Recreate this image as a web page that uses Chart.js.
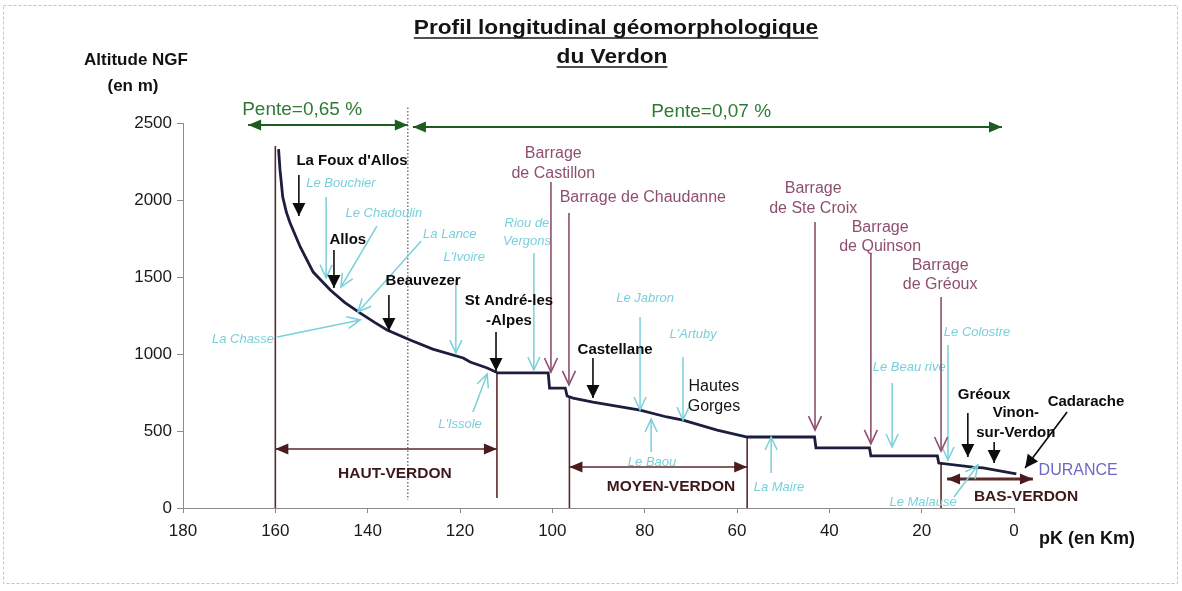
<!DOCTYPE html>
<html><head><meta charset="utf-8">
<script src="https://cdn.jsdelivr.net/npm/chart.js@4.4.1/dist/chart.umd.min.js"></script>
<style>html,body{margin:0;padding:0;background:#fff}#wrap{width:1182px;height:591px;position:relative}</style>
</head><body><div id="wrap"><canvas id="c" width="1182" height="591"></canvas></div>
<script>
// ---- data (km from confluence, altitude NGF in m) ----
const profileKm  = [159.3,159.0,158.4,157.6,156.8,154.6,151.8,148.1,145.0,141.6,138.5,135.8,130.8,125.9,119.3,117.8,114.1,111.8,100.9,100.6,97.2,96.8,95.5,91.2,81.0,75.2,71.7,64.3,57.8,43.2,42.9,31.3,31.0,16.6,16.3,8.9,6.7,-0.5];
const profileAlt = [2330,2200,2020,1920,1850,1695,1532,1416,1335,1266,1205,1156,1091,1032,974,948,909,877,877,779,779,727,714,688,636,591,571,506,461,461,390,390,338,338,292,266,260,222];
const xTickValues = [180,160,140,120,100,80,60,40,20,0];
const yTickValues = [0,500,1000,1500,2000,2500];

const titleLines = ["Profil longitudinal géomorphologique","du Verdon"];
const yAxisTitle = ["Altitude NGF","(en m)"];
const xAxisTitle = "pK (en Km)";

// towns: text lines, label km, label alt per line, arrow [km1,alt1,km2,alt2]
const towns = [
  {t:["La Foux d'Allos"], km:143.4, alt:[2253], a:[154.9,2162,154.9,1896]},
  {t:["Allos"], km:144.3, alt:[1740], a:[147.3,1675,147.3,1429]},
  {t:["Beauvezer"], km:128.0, alt:[1474], a:[135.4,1383,135.4,1149]},
  {t:["St André-les","-Alpes"], km:109.4, alt:[1344,1214], a:[112.2,1143,112.2,890]},
  {t:["Castellane"], km:86.4, alt:[1026], a:[91.2,974,91.2,714]},
  {t:["Gréoux"], km:6.5, alt:[734], a:[10.0,617,10.0,331]},
  {t:["Vinon-","sur-Verdon"], km:-0.4, alt:[617,487], a:[4.3,429,4.3,292]},
  {t:["Cadarache"], km:-15.6, alt:[688], a:[-11.5,623,-2.4,260]}
];
const plainLabels = [
  {t:["Hautes","Gorges"], km:65.0, alt:[786,656]}
];
const dams = [
  {t:["Barrage","de Castillon"], km:99.8, alt:[2299,2169], a:[100.3,2117,100.3,883]},
  {t:["Barrage de Chaudanne"], km:80.4, alt:[2013], a:[96.4,1916,96.4,799]},
  {t:["Barrage","de Ste Croix"], km:43.5, alt:[2071,1942], a:[43.1,1857,43.1,506]},
  {t:["Barrage","de Quinson"], km:29.0, alt:[1818,1695], a:[31.0,1656,31.0,416]},
  {t:["Barrage","de Gréoux"], km:16.0, alt:[1571,1448], a:[15.8,1370,15.8,370]}
];
const tributaries = [
  {t:["Le Bouchier"], km:145.8, alt:[2110], a:[149.0,2019,149.0,1494]},
  {t:["Le Chadoulin"], km:136.5, alt:[1916], a:[138.0,1831,145.8,1435]},
  {t:["La Lance"], km:122.2, alt:[1779], a:[128.4,1734,142.1,1273]},
  {t:["L'Ivoire"], km:119.1, alt:[1630], a:[120.9,1481,120.9,1006]},
  {t:["La Chasse"], km:167.0, alt:[1097], a:[159.6,1110,141.6,1221]},
  {t:["Riou de","Vergons"], km:105.5, alt:[1851,1734], a:[104.0,1656,104.0,896]},
  {t:["L'Issole"], km:120.0, alt:[545], a:[117.2,623,114.1,870]},
  {t:["Le Jabron"], km:79.9, alt:[1364], a:[81.0,1240,81.0,636]},
  {t:["L'Artuby"], km:69.5, alt:[1130], a:[71.7,981,71.7,571]},
  {t:["Le Baou"], km:78.4, alt:[299], a:[78.6,364,78.6,578]},
  {t:["La Maire"], km:50.9, alt:[136], a:[52.6,227,52.6,461]},
  {t:["Le Beau rive"], km:22.7, alt:[916], a:[26.4,812,26.4,396]},
  {t:["Le Colostre"], km:8.0, alt:[1143], a:[14.3,1058,14.3,312]},
  {t:["Le Malause"], km:19.7, alt:[39], a:[13.0,71,7.8,279]}
];
const slopes = [
  {t:"Pente=0,65 %", km:154.2, alt:2584, from:165.9, to:131.3, arrowAlt:2487},
  {t:"Pente=0,07 %", km:65.6, alt:2571, from:130.2, to:2.6, arrowAlt:2474}
];
const slopeBreakKm = 131.3, slopeBreakAlt = [2600,52];
const sectionLines = [[160,0,2350],[112.0,65,877],[96.3,0,727],[57.8,0,461],[15.8,0,292]];
const sections = [
  {t:"HAUT-VERDON", km:134.1, alt:221, from:160, to:112.0, arrowAlt:383},
  {t:"MOYEN-VERDON", km:74.3, alt:136, from:96.3, to:57.8, arrowAlt:266},
  {t:"BAS-VERDON", km:-2.6, alt:71, from:14.5, to:-4.1, arrowAlt:188}
];
const riverOut = {t:"DURANCE", km:-13.9, alt:240};

// ---- styles ----
const FONT = "'Liberation Sans', Arial, Helvetica, sans-serif";
const C_CURVE = '#1d1d3d', C_MAROON = '#5a2a2c', C_DAM = '#8e4f6e', C_CYAN = '#79d0da',
      C_GREEN = '#1f5c22', C_GREENTXT = '#2f7a34', C_AXIS = '#8a8a8a', C_DUR = '#6a6ac4';

function seg(ctx,x1,y1,x2,y2,color,lw,dash){
  ctx.save();ctx.strokeStyle=color;ctx.lineWidth=lw;ctx.setLineDash(dash||[]);
  ctx.beginPath();ctx.moveTo(x1,y1);ctx.lineTo(x2,y2);ctx.stroke();ctx.restore();
}
function head(ctx,x1,y1,x2,y2,color,len,w,filled,lw){
  const ang=Math.atan2(y2-y1,x2-x1), c=Math.cos(ang), s=Math.sin(ang);
  const bx=x2-len*c, by=y2-len*s;
  const lx=bx - (w/2)*(-s), ly=by - (w/2)*c, rx=bx + (w/2)*(-s), ry=by + (w/2)*c;
  ctx.save();
  if(filled){ctx.fillStyle=color;ctx.beginPath();ctx.moveTo(x2,y2);ctx.lineTo(lx,ly);ctx.lineTo(rx,ry);ctx.closePath();ctx.fill();}
  else{ctx.strokeStyle=color;ctx.lineWidth=lw||1.5;ctx.beginPath();ctx.moveTo(lx,ly);ctx.lineTo(x2,y2);ctx.lineTo(rx,ry);ctx.stroke();}
  ctx.restore();
}
function text(ctx,str,x,y,font,color,align){
  ctx.save();ctx.font=font;ctx.fillStyle=color;ctx.textAlign=align||'center';ctx.textBaseline='middle';
  ctx.fillText(str,x,y);ctx.restore();
}

const annot = {
  id:'annot',
  beforeDatasetsDraw(chart){
    const ctx=chart.ctx, X=v=>chart.scales.x.getPixelForValue(v), Y=v=>chart.scales.y.getPixelForValue(v);
    sectionLines.forEach(([k,a0,a1])=>seg(ctx,X(k),Y(a0),X(k),Y(a1),C_MAROON,1.6));
    seg(ctx,X(slopeBreakKm),Y(slopeBreakAlt[0]),X(slopeBreakKm),Y(slopeBreakAlt[1]),'#4a5a4a',1.2,[1.5,2]);
  },
  afterDatasetsDraw(chart){
    const ctx=chart.ctx, X=v=>chart.scales.x.getPixelForValue(v), Y=v=>chart.scales.y.getPixelForValue(v);
    // scan frame
    ctx.save();ctx.strokeStyle='#c4c4c4';ctx.lineWidth=1;ctx.setLineDash([3,2]);
    ctx.strokeRect(3.5,5.5,1174,578);ctx.restore();
    // titles (slightly widened bold type, underlined)
    titleLines.forEach((s,i)=>{
      const y=[28,57][i], cx=[616,612][i], sx=1.08;
      const f="bold 21px "+FONT;
      ctx.save();ctx.font=f;const w=ctx.measureText(s).width*sx;
      ctx.translate(cx,y);ctx.scale(sx,1);
      ctx.fillStyle='#141414';ctx.textAlign='center';ctx.textBaseline='middle';ctx.fillText(s,0,0);
      ctx.restore();
      seg(ctx,cx-w/2,y+10,cx+w/2,y+10,'#141414',1.7);
    });
    text(ctx,yAxisTitle[0],136,60,"bold 17px "+FONT,'#111');
    text(ctx,yAxisTitle[1],133,86,"bold 17px "+FONT,'#111');
    text(ctx,xAxisTitle,1039,539,"bold 18px "+FONT,'#111','left');
    // slopes
    slopes.forEach(s=>{
      const y=Y(s.arrowAlt), x1=X(s.from), x2=X(s.to);
      seg(ctx,x1,y,x2,y,C_GREEN,2);
      head(ctx,x2,y,x1,y,C_GREEN,13,11,true);
      head(ctx,x1,y,x2,y,C_GREEN,13,11,true);
      text(ctx,s.t,X(s.km),Y(s.alt),"19px "+FONT,C_GREENTXT);
    });
    // sections
    sections.forEach(s=>{
      const y=Y(s.arrowAlt), x1=X(s.from), x2=X(s.to);
      seg(ctx,x1,y,x2,y,C_MAROON,s.t==="BAS-VERDON"?3:1.6);
      head(ctx,x2,y,x1,y,'#4a1c1e',13,11,true);
      head(ctx,x1,y,x2,y,'#4a1c1e',13,11,true);
      text(ctx,s.t,X(s.km),Y(s.alt),"bold 15.5px "+FONT,'#3e1819');
    });
    // tributaries
    tributaries.forEach(o=>{
      o.t.forEach((s,i)=>text(ctx,s,X(o.km),Y(o.alt[i]),"italic 13px "+FONT,C_CYAN));
      const [k1,a1,k2,a2]=o.a, x1=X(k1),y1=Y(a1),x2=X(k2),y2=Y(a2);
      seg(ctx,x1,y1,x2,y2,C_CYAN,1.5);head(ctx,x1,y1,x2,y2,C_CYAN,13,12,false,1.5);
    });
    // dams
    dams.forEach(o=>{
      o.t.forEach((s,i)=>text(ctx,s,X(o.km),Y(o.alt[i]),"16px "+FONT,C_DAM));
      const [k1,a1,k2,a2]=o.a, x1=X(k1),y1=Y(a1),x2=X(k2),y2=Y(a2);
      seg(ctx,x1,y1,x2,y2,C_DAM,1.6);head(ctx,x1,y1,x2,y2,C_DAM,14,13,false,1.6);
    });
    // towns
    towns.forEach(o=>{
      o.t.forEach((s,i)=>text(ctx,s,X(o.km),Y(o.alt[i]),"bold 15px "+FONT,'#0c0c0c'));
      const [k1,a1,k2,a2]=o.a, x1=X(k1),y1=Y(a1),x2=X(k2),y2=Y(a2);
      seg(ctx,x1,y1,x2,y2,'#0c0c0c',1.6);head(ctx,x1,y1,x2,y2,'#0c0c0c',13,13,true);
    });
    plainLabels.forEach(o=>o.t.forEach((s,i)=>text(ctx,s,X(o.km),Y(o.alt[i]),"16px "+FONT,'#141414')));
    text(ctx,riverOut.t,X(riverOut.km),Y(riverOut.alt),"16px "+FONT,C_DUR);
  }
};

new Chart(document.getElementById('c'),{
  type:'line',
  data:{datasets:[{
    data: profileKm.map((k,i)=>({x:k,y:profileAlt[i]})),
    borderColor:C_CURVE, borderWidth:2.8, pointRadius:0, tension:0, fill:false, clip:false
  }]},
  options:{
    responsive:false, animation:false, devicePixelRatio:1,
    layout:{padding:{left:0,right:168,top:123,bottom:0}},
    plugins:{legend:{display:false},tooltip:{enabled:false},title:{display:false}},
    scales:{
      x:{type:'linear',reverse:true,min:0,max:180,
        afterBuildTicks:s=>{s.ticks=xTickValues.map(v=>({value:v}));},
        afterFit:s=>{s.height=83;},
        grid:{drawOnChartArea:false,drawTicks:true,tickLength:5,color:C_AXIS},
        border:{display:true,color:C_AXIS,width:1},
        ticks:{font:{family:FONT,size:17},color:'#1a1a1a',padding:8,maxRotation:0,callback:v=>String(v)}},
      y:{type:'linear',min:0,max:2500,
        afterBuildTicks:s=>{s.ticks=yTickValues.map(v=>({value:v}));},
        afterFit:s=>{s.width=183;},
        grid:{drawOnChartArea:false,drawTicks:true,tickLength:6,color:C_AXIS},
        border:{display:true,color:C_AXIS,width:1},
        ticks:{font:{family:FONT,size:17},color:'#1a1a1a',padding:5,callback:v=>String(v)}}
    }
  },
  plugins:[annot]
});
</script></body></html>
